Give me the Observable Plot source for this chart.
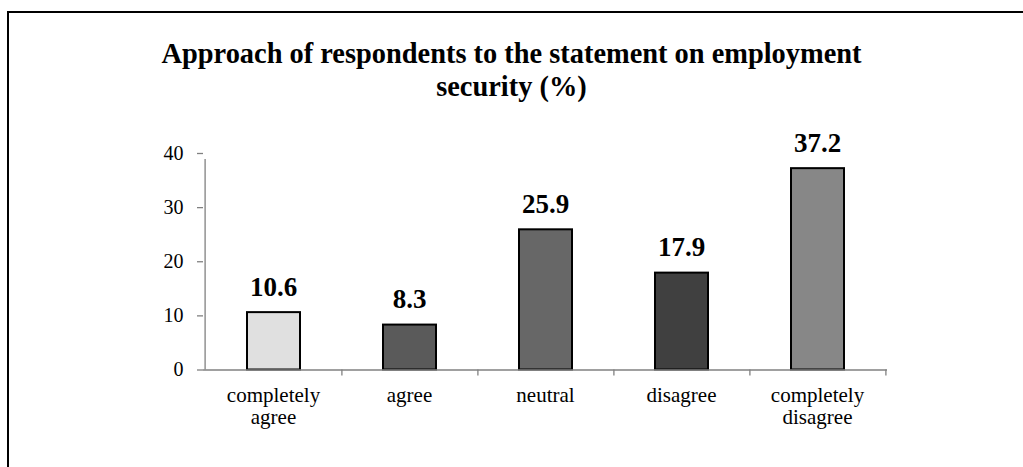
<!DOCTYPE html>
<html>
<head>
<meta charset="utf-8">
<script src="https://cdn.jsdelivr.net/npm/d3@7"></script>
<script src="https://cdn.jsdelivr.net/npm/@observablehq/plot@0.6"></script>
<style>
  html, body { margin: 0; padding: 0; background: #fff; }
  body { width: 1023px; height: 467px; position: relative; overflow: hidden; font-family: "Liberation Serif", "Times New Roman", serif; }
  #border { position: absolute; left: 7px; top: 11px; width: 1100px; height: 600px; border-left: 2px solid #000; border-top: 2px solid #000; }
  #title { position: relative; height: 83px; padding-top: 37px; text-align: center; font-weight: bold; font-size: 28.4px; line-height: 33px; color: #000; }
  #chart { position: relative; }
</style>
</head>
<body>
<div id="border"></div>
<div id="title">Approach of respondents to the statement on employment<br>security (%)</div>
<div id="chart"></div>
<script>
const categories = ["completely\nagree", "agree", "neutral", "disagree", "completely\ndisagree"];
const values = [10.6, 8.3, 25.9, 17.9, 37.2];
const yTicks = [0, 10, 20, 30, 40];
const barFills = ["#e0e0e0", "#5a5a5a", "#676767", "#404040", "#878787"];

const data = categories.map((c, i) => ({category: c, value: values[i], fill: barFills[i]}));
const font = "'Liberation Serif', 'Times New Roman', serif";
const step = (1023 - 203 - 136) / categories.length;

const chart = Plot.plot({
  width: 1023,
  height: 347,
  marginTop: 33,
  marginBottom: 97.5,
  marginLeft: 203,
  marginRight: 136,
  style: {fontFamily: font, background: "transparent", overflow: "visible"},
  x: {domain: categories, padding: 0, label: null},
  y: {domain: [0, 40], label: null},
  marks: [
    Plot.barY(data, {x: "category", y: "value", fill: "fill", stroke: "#000", strokeWidth: 2, insetLeft: 42, insetRight: 41}),
    Plot.ruleY([0], {stroke: "#808080", strokeWidth: 1.3}),
    Plot.ruleX([categories[0]], {y1: 0, y2: 40, insetBottom: -6, dx: -step / 2, stroke: "#808080", strokeWidth: 1.3}),
    Plot.ruleX(categories, {y1: 0, y2: 0, insetBottom: -6, dx: step / 2, stroke: "#808080", strokeWidth: 1.3}),
    Plot.axisY({ticks: yTicks, tickSize: 6, tickPadding: 14, fontSize: 20, stroke: "#808080", strokeWidth: 1.3, color: "#000", tickFormat: d => String(d)}),
    Plot.axisX({tickSize: 0, tickPadding: 16, fontSize: 21, lineHeight: 1.07, color: "#000"}),
    Plot.text(data, {x: "category", y: "value", text: d => d.value.toFixed(1), lineAnchor: "bottom", dy: -17, fontSize: 27, fontWeight: "bold", fill: "#000"})
  ]
});
document.getElementById("chart").appendChild(chart);
</script>
</body>
</html>
